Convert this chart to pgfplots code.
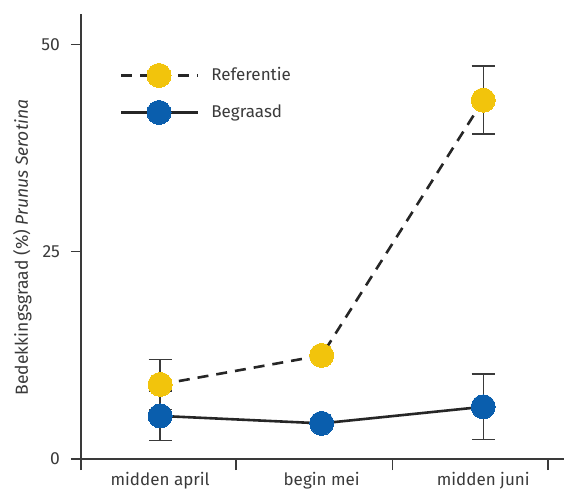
\documentclass[border=0pt]{standalone}
\usepackage{fontspec}
\setmainfont{Fira Sans}
\usepackage{pgfplots}
\pgfplotsset{compat=1.18}
\definecolor{refyellow}{HTML}{F2C40C}
\definecolor{begblue}{HTML}{0A5EAD}
\definecolor{axgray}{HTML}{3A3A3A}
\begin{document}
\fontsize{17.5pt}{21pt}\selectfont
\begin{tikzpicture}
\begin{axis}[
  scale only axis,
  width=483pt, height=445pt,
  xmin=-0.49, xmax=2.5,
  ymin=0, ymax=53.7,
  axis x line*=bottom, axis y line*=left,
  axis line style={axgray, line width=1.3pt},
  xtick={0,1,2},
  xticklabels={midden april, begin mei, midden juni},
  minor xtick={-0.49,0.47,1.44,2.4},
  ytick={0,25,50},
  tick align=outside,
  major tick length=10pt,
  minor tick length=11pt,
  x tick style={draw=none},
  minor x tick style={draw=axgray, line width=1.3pt},
  y tick style={axgray, line width=1.3pt},
  /pgf/number format/assume math mode=true,
  tick label style={font=\fontsize{17.5pt}{21pt}\selectfont, text=axgray},
  xticklabel style={font=\fontsize{17pt}{20pt}\selectfont, yshift=3pt},
  yticklabel style={xshift=-5pt},
  ylabel={Bedekkingsgraad (\%) \textit{Prunus Serotina}},
  ylabel style={font=\fontsize{17.5pt}{20pt}\selectfont, text=axgray, yshift=-2pt, xshift=-11pt},
  legend style={draw=none, fill=none, at={(axis cs:-0.27,48.0)}, anchor=north west,
    font=\fontsize{17pt}{20pt}\selectfont, text=axgray, row sep=13pt, column sep=10pt},
  legend cell align=left,
  legend image code/.code={\draw[mark repeat=2,mark phase=2,#1] plot coordinates {(0pt,0pt) (38pt,0pt) (77pt,0pt)};},
  clip=false,
]
% error bars
\addplot[forget plot, draw=none, mark=none,
  error bars/.cd, y dir=both, y explicit,
  error bar style={axgray, line width=1.4pt},
  error mark options={rotate=90, mark size=11.5pt, axgray, line width=1.4pt}]
  coordinates {(0,9.0) +- (0,3.0) (1,12.5) +- (0,0.5) (2,43.3) +- (0,4.1)};
\addplot[forget plot, draw=none, mark=none,
  error bars/.cd, y dir=both, y explicit,
  error bar style={axgray, line width=1.4pt},
  error mark options={rotate=90, mark size=11.5pt, axgray, line width=1.4pt}]
  coordinates {(0,5.2) +- (0,3.0) (1,4.3) +- (0,0.5) (2,6.3) +- (0,3.95)};
% lines
\addplot[color=black!85, line width=2.6pt, dash pattern=on 11pt off 8pt,
  mark=*, mark size=12pt, mark options={solid, fill=refyellow, draw=refyellow, line width=0pt}]
  coordinates {(0,9.0) (1,12.5) (2,43.3)};
\addlegendentry{Referentie}
\addplot[color=black!85, line width=2.6pt,
  mark=*, mark size=12pt, mark options={solid, fill=begblue, draw=begblue, line width=0pt}]
  coordinates {(0,5.2) (1,4.3) (2,6.3)};
\addlegendentry{Begraasd}
\end{axis}
\pgfresetboundingbox
\path ([xshift=-81pt,yshift=-34pt]current axis.south west) rectangle ([yshift=14pt]current axis.north east);
\end{tikzpicture}
\end{document}
